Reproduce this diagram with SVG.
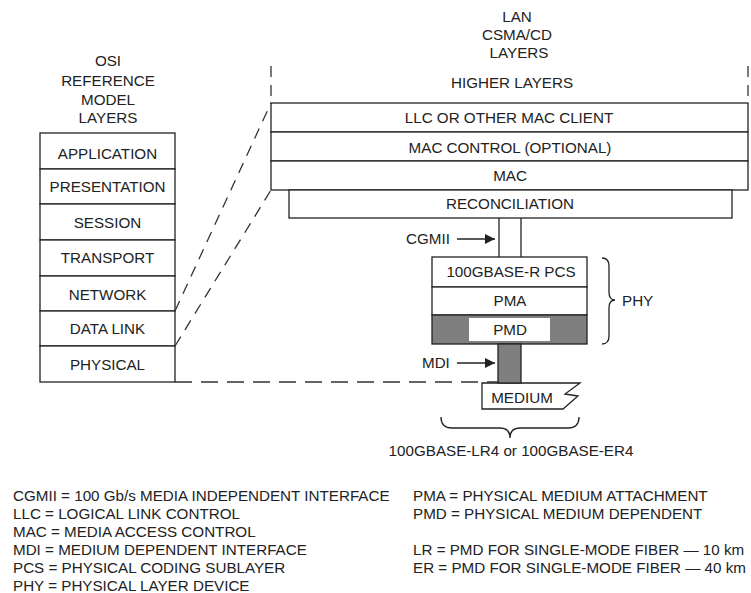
<svg xmlns="http://www.w3.org/2000/svg" width="751" height="593" viewBox="0 0 751 593">
<style>
text{font-family:"Liberation Sans",Arial,sans-serif;font-size:15.2px;fill:#222;}
.c{text-anchor:middle;}
.box{fill:#fff;stroke:#222;stroke-width:1.3;}
.ln{fill:none;stroke:#222;stroke-width:1.3;}
.dash{fill:none;stroke:#333;stroke-width:1.3;stroke-dasharray:11 8;}
.gray{fill:#7f7f7f;stroke:#222;stroke-width:1.3;}
</style>
<defs>
<marker id="ah" viewBox="0 0 10 10" refX="10" refY="5" markerWidth="10" markerHeight="10" markerUnits="userSpaceOnUse" orient="auto">
<path d="M0,0 L10,5 L0,10 z" fill="#222"/>
</marker>
</defs>
<rect width="751" height="593" fill="#fff"/>

<g id="osi-title">
<text class="c" x="108" y="66">OSI</text>
<text class="c" x="108" y="86">REFERENCE</text>
<text class="c" x="108" y="105">MODEL</text>
<text class="c" x="108" y="123">LAYERS</text>
</g>
<g id="osi-application"><rect class="box" x="40" y="133" width="135" height="36"/><text class="c" x="107.5" y="159">APPLICATION</text></g>
<g id="osi-presentation"><rect class="box" x="40" y="169" width="135" height="35"/><text class="c" x="107.5" y="192">PRESENTATION</text></g>
<g id="osi-session"><rect class="box" x="40" y="204" width="135" height="36"/><text class="c" x="107.5" y="228">SESSION</text></g>
<g id="osi-transport"><rect class="box" x="40" y="240" width="135" height="36"/><text class="c" x="107.5" y="263">TRANSPORT</text></g>
<g id="osi-network"><rect class="box" x="40" y="276" width="135" height="35"/><text class="c" x="107.5" y="300">NETWORK</text></g>
<g id="osi-datalink"><rect class="box" x="40" y="311" width="135" height="35"/><text class="c" x="107.5" y="334">DATA LINK</text></g>
<g id="osi-physical"><rect class="box" x="40" y="346" width="135" height="36"/><text class="c" x="107.5" y="370">PHYSICAL</text></g>

<g id="lan-title">
<text class="c" x="517" y="22">LAN</text>
<text class="c" x="517" y="40">CSMA/CD</text>
<text class="c" x="519" y="58">LAYERS</text>
</g>
<g id="lan-higher">
<line class="dash" x1="271" y1="66" x2="271" y2="103"/>
<line class="dash" x1="748" y1="66" x2="748" y2="103"/>
<text class="c" x="512" y="88">HIGHER LAYERS</text>
</g>
<g id="lan-llc"><rect class="box" x="271" y="103" width="477" height="29"/><text class="c" x="509" y="123">LLC OR OTHER MAC CLIENT</text></g>
<g id="lan-macctrl"><rect class="box" x="271" y="132" width="477" height="29"/><text class="c" x="510" y="153">MAC CONTROL (OPTIONAL)</text></g>
<g id="lan-mac"><rect class="box" x="271" y="161" width="477" height="29"/><text class="c" x="510" y="181">MAC</text></g>
<g id="lan-reconciliation"><rect class="box" x="289" y="190" width="443" height="28"/><text class="c" x="510" y="209">RECONCILIATION</text></g>

<g id="phy-pcs"><rect class="box" x="432" y="257" width="155" height="30"/><text class="c" x="511" y="277">100GBASE-R PCS</text></g>
<g id="phy-pma"><rect class="box" x="432" y="287" width="155" height="28"/><text class="c" x="510" y="306">PMA</text></g>
<g id="phy-pmd"><rect class="gray" x="432" y="315" width="155" height="29"/><rect x="469" y="318" width="81" height="23" fill="#fff"/><text class="c" x="510" y="335">PMD</text></g>
<g id="phy-brace">
<path class="ln" d="M602,258 Q609,258 609,266 L609,292 Q609,300 615,300 Q609,300 609,308 L609,336 Q609,344 602,344"/>
<text x="622" y="306">PHY</text>
</g>

<g id="medium">
<path class="box" d="M482,383 L580,383 L565,394 L578,396 L563,409 L482,409 Z"/>
<text class="c" x="522" y="403">MEDIUM</text>
</g>
<g id="medium-brace">
<path class="ln" d="M441,417 Q441,428 452,428 L500,428 Q510,428 510,438 Q510,428 520,428 L568,428 Q579,428 579,417"/>
<text class="c" x="511" y="456">100GBASE-LR4 or 100GBASE-ER4</text>
</g>

<g id="connectors">
<line class="dash" x1="175" y1="311" x2="271" y2="103"/>
<line class="dash" x1="175" y1="346" x2="271" y2="190"/>
<line class="dash" x1="175" y1="382" x2="498" y2="382" style="stroke-dasharray:17 9"/>
<line class="ln" x1="499" y1="218" x2="499" y2="257"/>
<line class="ln" x1="521" y1="218" x2="521" y2="257"/>
<rect class="gray" x="498" y="344" width="23" height="39"/>
<line class="ln" x1="457" y1="239" x2="495" y2="239" marker-end="url(#ah)"/>
<line class="ln" x1="457" y1="363" x2="495" y2="363" marker-end="url(#ah)"/>
</g>
<g id="interface-labels">
<text x="406" y="244">CGMII</text>
<text x="422" y="368">MDI</text>
</g>

<g id="legend">
<text x="13" y="501">CGMII = 100 Gb/s MEDIA INDEPENDENT INTERFACE</text>
<text x="13" y="519">LLC = LOGICAL LINK CONTROL</text>
<text x="13" y="537">MAC = MEDIA ACCESS CONTROL</text>
<text x="13" y="555">MDI = MEDIUM DEPENDENT INTERFACE</text>
<text x="13" y="573">PCS = PHYSICAL CODING SUBLAYER</text>
<text x="13" y="591">PHY = PHYSICAL LAYER DEVICE</text>
<text x="413" y="501">PMA = PHYSICAL MEDIUM ATTACHMENT</text>
<text x="413" y="519">PMD = PHYSICAL MEDIUM DEPENDENT</text>
<text x="413" y="555">LR = PMD FOR SINGLE-MODE FIBER — 10 km</text>
<text x="413" y="573">ER = PMD FOR SINGLE-MODE FIBER — 40 km</text>
</g>
</svg>
